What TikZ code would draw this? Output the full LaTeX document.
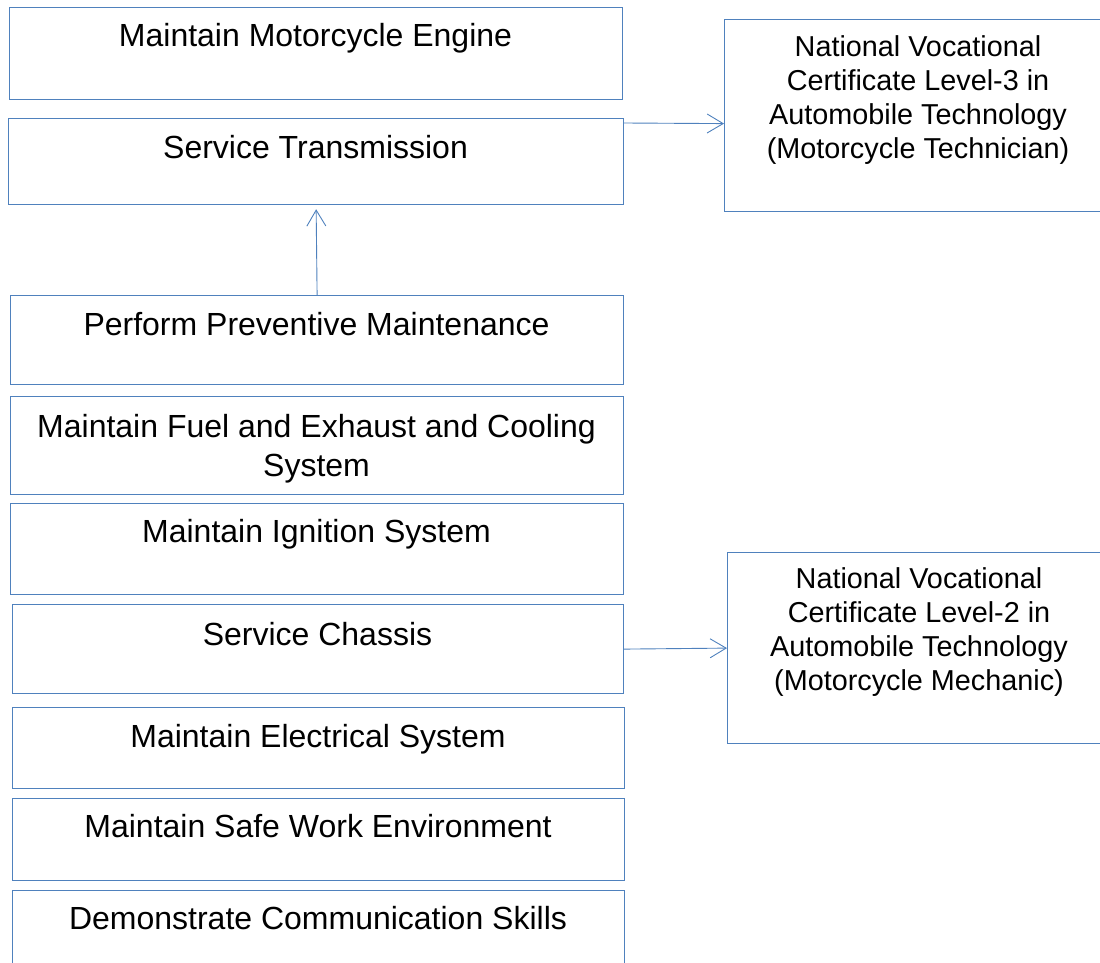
\documentclass[tikz,border=0pt]{standalone}
\usepackage{fontspec}
\setmainfont{Liberation Sans}
\usetikzlibrary{arrows.meta}
\definecolor{edge}{RGB}{79,129,189}
\begin{document}
\begin{tikzpicture}[x=1pt,y=-1pt,
  box/.style={draw=edge, line width=1.2pt, rectangle, inner sep=0pt, anchor=north west},
  lbl/.style={font=\fontsize{32}{39}\selectfont, align=center, anchor=base, inner sep=0pt},
  cert/.style={font=\fontsize{28.8}{34.2}\selectfont, align=center, anchor=base, inner sep=0pt},
  arr/.style={draw=edge, line width=0.9pt, -{Straight Barb[length=16pt,width=19pt]}}]
\useasboundingbox (0,0) rectangle (1100,963);
\clip (0,0) rectangle (1100,963);
% competency boxes
\node[box, minimum width=613pt, minimum height=92pt] (b1) at (9,7) {};
\node[box, minimum width=615pt, minimum height=86pt] (b2) at (8,118) {};
\node[box, minimum width=613pt, minimum height=89pt] (b3) at (10,295) {};
\node[box, minimum width=613pt, minimum height=98pt] (b4) at (10,396) {};
\node[box, minimum width=613pt, minimum height=91pt] (b5) at (10,503) {};
\node[box, minimum width=611pt, minimum height=89pt] (b6) at (12,604) {};
\node[box, minimum width=612pt, minimum height=81pt] (b7) at (12,707) {};
\node[box, minimum width=612pt, minimum height=82pt] (b8) at (12,798) {};
\node[box, minimum width=612pt, minimum height=95pt] (b9) at (12,890) {};
% certificate boxes
\node[box, minimum width=392pt, minimum height=192pt] (n3) at (724,19) {};
\node[box, minimum width=390pt, minimum height=191pt] (n2) at (727,552) {};
% texts (base anchor = baseline of the last line)
\node[lbl] (t1) at (315.5,47) {Maintain Motorcycle Engine};
\node[lbl] (t2) at (315.5,158) {Service Transmission};
\node[lbl] (t3) at (316.5,335) {Perform Preventive Maintenance};
\node[lbl] (t4) at (316.5,476) {Maintain Fuel and Exhaust and Cooling\\System};
\node[lbl] (t5) at (316.5,542) {Maintain Ignition System};
\node[lbl] (t6) at (317.5,645) {Service Chassis};
\node[lbl] (t7) at (318,747) {Maintain Electrical System};
\node[lbl] (t8) at (318,837) {Maintain Safe Work Environment};
\node[lbl] (t9) at (318,929) {Demonstrate Communication Skills};
\node[cert] (c3) at (918,158.6) {National Vocational\\Certificate Level-3 in\\Automobile Technology\\(Motorcycle Technician)};
\node[cert] (c2) at (919,690.6) {National Vocational\\Certificate Level-2 in\\Automobile Technology\\(Motorcycle Mechanic)};
% connectors
\draw[arr] ([yshift=-5pt]b2.north east) -- ([yshift=-8pt]n3.west);
\draw[arr, shorten >=4pt] (b3.north) -- (b2.south);
\draw[arr] (b6.east) -- (n2.west);
\end{tikzpicture}
\end{document}
